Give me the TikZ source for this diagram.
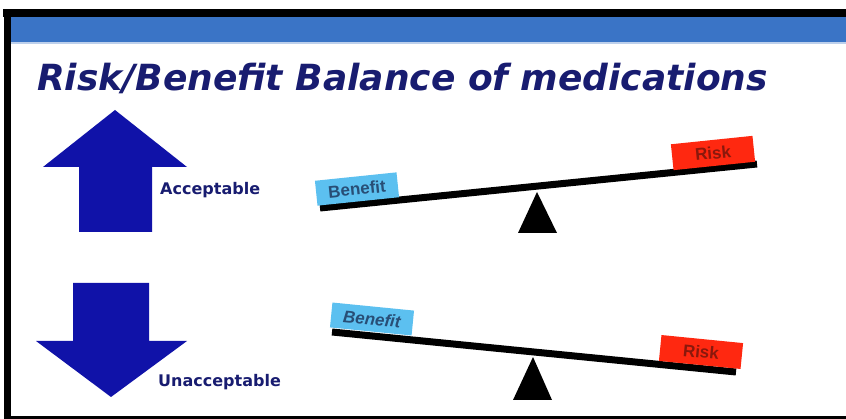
\documentclass[tikz,border=0pt]{standalone}
\usepackage{fontspec}
\setmainfont{DejaVu Sans}
\newfontfamily\boxfont{Liberation Sans}
\definecolor{barblue}{RGB}{58,116,198}
\definecolor{barline}{RGB}{189,208,236}
\definecolor{arrowblue}{RGB}{16,18,168}
\definecolor{navy}{RGB}{24,28,112}
\definecolor{benefitfill}{RGB}{92,192,240}
\definecolor{riskfill}{RGB}{255,40,16}
\definecolor{benefittext}{RGB}{40,78,118}
\definecolor{risktext}{RGB}{138,24,12}
\tikzset{
  bigarrow/.style={fill=arrowblue, draw=none},
  beam/.style={line width=7pt, black},
  fulcrum/.style={fill=black, draw=none},
  benefitbox/.style={fill=benefitfill, text=benefittext, minimum width=82pt, minimum height=25pt, inner sep=0pt, font=\boxfont\fontsize{17}{19}\selectfont\bfseries},
  riskbox/.style={fill=riskfill, text=risktext, minimum width=82pt, minimum height=26pt, inner sep=0pt, font=\boxfont\fontsize{17}{19}\selectfont\bfseries},
  label/.style={text=navy, font=\fontsize{16}{18}\selectfont\bfseries, inner sep=0pt}
}
\begin{document}
\begin{tikzpicture}[x=1pt,y=-1pt]
\useasboundingbox (0,0) rectangle (846,419);
% frame
\fill[black] (3,9) rectangle (846,17);
\fill[black] (4,9) rectangle (11,419);
\fill[black] (4,416) rectangle (846,419);
% header bar
\fill[barblue] (11,17) rectangle (846,42);
\fill[barline] (11,42) rectangle (846,44);
% title
\node[anchor=base west, inner sep=0pt, text=navy, font=\fontsize{36}{40}\selectfont\bfseries\itshape] (title) at (37,90.5) {Risk/Benefit Balance of medications};
% up arrow
\fill[bigarrow] (115,110) -- (187,167) -- (152,167) -- (152,232) -- (79,232) -- (79,167) -- (43,167) -- cycle;
\node[label, anchor=west] (acc) at (160,190) {Acceptable};
% down arrow
\fill[bigarrow] (73,283) -- (149,283) -- (149,341) -- (187,341) -- (111,397) -- (36,341) -- (73,341) -- cycle;
\node[label, anchor=west] (unacc) at (158,382) {Unacceptable};
% top seesaw
\coordinate (b1l) at (320,208);
\coordinate (b1r) at (757,164);
\draw[beam] (b1l) -- (b1r);
\fill[fulcrum] (537,192) -- (557,233) -- (518,233) -- cycle;
\node[benefitbox, rotate=5.9] (ben1) at (357,189) {Benefit};
\node[riskbox, rotate=5.9] (risk1) at (713,153) {Risk};
% bottom seesaw
\coordinate (b2l) at (332,332);
\coordinate (b2r) at (736,372);
\draw[beam] (b2l) -- (b2r);
\fill[fulcrum] (533,357) -- (552,400) -- (513,400) -- cycle;
\node[benefitbox, rotate=-5.65, font=\boxfont\fontsize{17}{19}\selectfont\bfseries\itshape] (ben2) at (372,319) {Benefit};
\node[riskbox, rotate=-5.65] (risk2) at (701,352) {Risk};
\end{tikzpicture}
\end{document}
